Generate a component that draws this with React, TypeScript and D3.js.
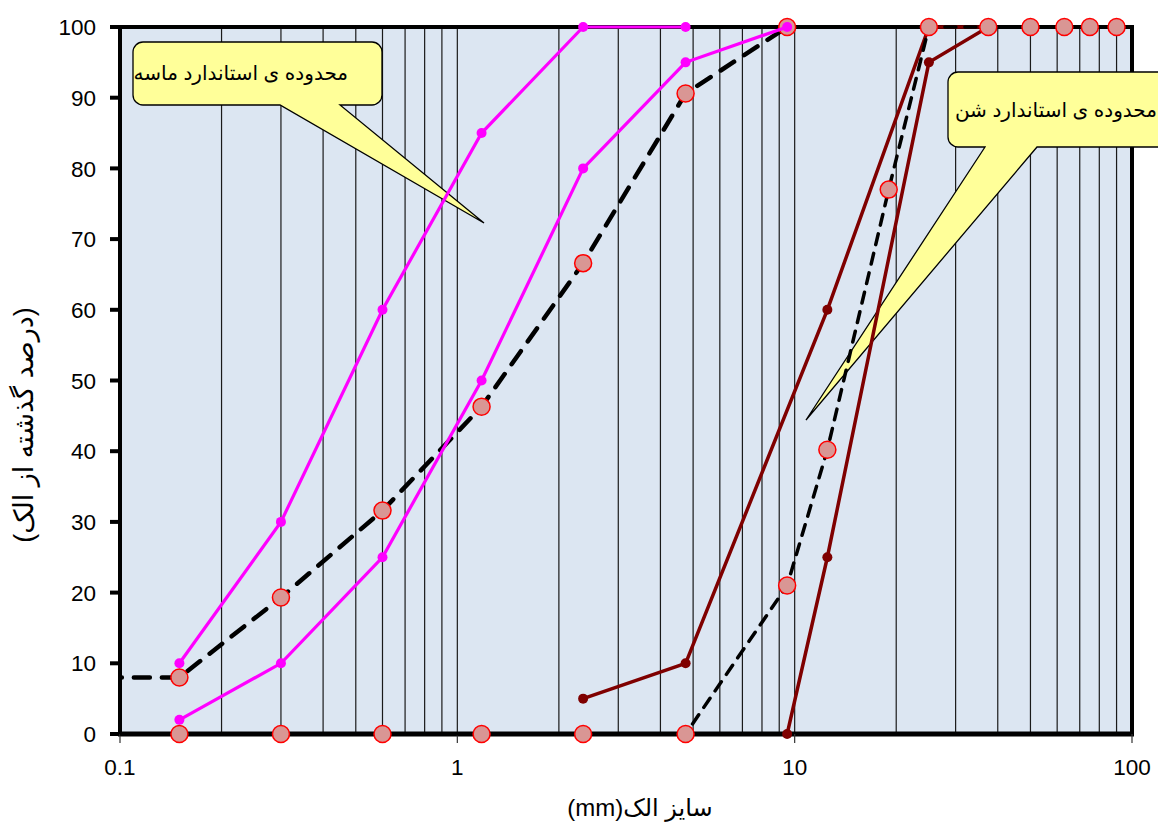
import React from "react";
import * as d3 from "d3";

const sieveSand = [0.15, 0.3, 0.6, 1.18, 2.36, 4.75, 9.5];
const sandUpper = [10, 30, 60, 85, 100, 100];
const sandLower = [2, 10, 25, 50, 80, 95, 100];
const sandMeasuredSizes = [0.075, 0.15, 0.3, 0.6, 1.18, 2.36, 4.75, 9.5];
const sandMeasured = [8, 8, 19.3, 31.6, 46.3, 66.6, 90.6, 100];

const gravelMeasuredSizes = [0.075, 0.15, 0.3, 0.6, 1.18, 2.36, 4.75, 9.5, 12.5, 19, 25, 37.5, 50, 63, 75, 90];
const gravelMeasured = [0, 0, 0, 0, 0, 0, 0, 21, 40.2, 77, 100, 100, 100, 100, 100, 100];

const gravelUpperSizes = [2.36, 4.75, 12.5, 25, 37.5];
const gravelUpper = [5, 10, 60, 100, 100];
const gravelLowerSizes = [9.5, 12.5, 25, 37.5];
const gravelLower = [0, 25, 95, 100];

const yTicks = [0, 10, 20, 30, 40, 50, 60, 70, 80, 90, 100];
const xTicks = [0.1, 1, 10, 100];
const xTickLabels = ["0.1", "1", "10", "100"];

const FONT = "'Liberation Sans', Arial, 'DejaVu Sans', sans-serif";

type P = [number, number];

export default function App() {
  const W = 1158, H = 828;
  const L = 120, R = 1132, T = 27, B = 734;
  const x = d3.scaleLog().domain([0.1, 100]).range([L, R]);
  const y = d3.scaleLinear().domain([0, 100]).range([B, T]);
  const line = d3.line<P>().x((d) => x(d[0])).y((d) => y(d[1]));

  const grid: number[] = [];
  [0.1, 1, 10].forEach((dec) => {
    for (let k = 2; k <= 9; k++) grid.push(dec * k);
    if (dec < 10) grid.push(dec * 10);
  });

  const zip = (xs: number[], ys: number[]): P[] => ys.map((v, i) => [xs[i], v]);
  const sU = zip(sieveSand, sandUpper);
  const sL = zip(sieveSand, sandLower);
  const sM = zip(sandMeasuredSizes, sandMeasured);
  const gM = zip(gravelMeasuredSizes, gravelMeasured);
  const gU = zip(gravelUpperSizes, gravelUpper);
  const gLo = zip(gravelLowerSizes, gravelLower);

  const callout = (x0: number, y0: number, x1: number, y1: number, r: number, bx0: number, bx1: number, tx: number, ty: number) =>
    `M${x0 + r},${y0} H${x1 - r} A${r},${r} 0 0 1 ${x1},${y0 + r} V${y1 - r} A${r},${r} 0 0 1 ${x1 - r},${y1} H${bx1} L${tx},${ty} L${bx0},${y1} H${x0 + r} A${r},${r} 0 0 1 ${x0},${y1 - r} V${y0 + r} A${r},${r} 0 0 1 ${x0 + r},${y0} Z`;

  const inPlot = (pts: P[]) => pts.filter((p) => p[0] >= 0.1);

  return (
    <svg width={W} height={H} style={{ position: "absolute", left: 0, top: 0, background: "#fff" }} fontFamily={FONT}>
      <defs>
        <clipPath id="plotclip">
          <rect x={L} y={0} width={R - L} height={H} />
        </clipPath>
      </defs>
      <rect x={L} y={T} width={R - L} height={B - T} fill="#DCE6F2" />
      {grid.map((g, i) => (
        <line key={i} x1={x(g)} x2={x(g)} y1={T} y2={B} stroke="#1a1a1a" strokeWidth={1.2} />
      ))}
      {/* border */}
      <rect x={L} y={T} width={R - L} height={B - T} fill="none" stroke="#000" strokeWidth={4} />
      <line x1={L - 2} x2={R + 2} y1={B} y2={B} stroke="#000" strokeWidth={5} />
      {/* y ticks */}
      {yTicks.map((t) => (
        <g key={t}>
          <line x1={L - 10} x2={L} y1={y(t)} y2={y(t)} stroke="#000" strokeWidth={4} />
          <text x={96} y={y(t)} dy="0.36em" textAnchor="end" fontSize={22.5} fill="#000">{t}</text>
        </g>
      ))}
      {/* x ticks */}
      {xTicks.map((t, i) => (
        <g key={t}>
          <line x1={x(t)} x2={x(t)} y1={B} y2={B + 9} stroke="#333" strokeWidth={1.2} />
          <text x={x(t)} y={775} textAnchor="middle" fontSize={22.5} fill="#000">{xTickLabels[i]}</text>
        </g>
      ))}
      {/* axis titles */}
      <text x={640} y={816} textAnchor="middle" fontSize={24} fill="#000" direction="ltr">(mm)سایز الک</text>
      <text transform="translate(33,425) rotate(-90)" textAnchor="middle" fontSize={27} fill="#000" direction="rtl">(درصد گذشته از الک)</text>

      {/* callouts */}
      <path d={callout(133, 42, 382, 105, 10, 280, 340, 484, 223)} fill="#FFFF99" stroke="#000" strokeWidth={1.3} />
      <text x={348} y={80} textAnchor="start" fontSize={20} fill="#000" direction="rtl">محدوده ی استاندارد ماسه</text>
      <path d={callout(948, 72, 1190, 147, 10, 985, 1037, 806, 420)} fill="#FFFF99" stroke="#000" strokeWidth={1.3} />
      <text x={1157} y={117} textAnchor="start" fontSize={20} fill="#000" direction="rtl">محدوده ی استاندارد شن</text>

      <g clipPath="url(#plotclip)">
        <path d={line(sU) || ""} fill="none" stroke="#FF00FF" strokeWidth={3.2} />
      </g>
      {sU.map((p, i) => <circle key={"su" + i} cx={x(p[0])} cy={y(p[1])} r={5} fill="#FF00FF" />)}
      <g clipPath="url(#plotclip)">
        <path d={line(sM) || ""} fill="none" stroke="#000" strokeWidth={4.5} strokeDasharray="16,12" strokeLinecap="round" />
      </g>
      {inPlot(sM).map((p, i) => <circle key={"sm" + i} cx={x(p[0])} cy={y(p[1])} r={8.5} fill="#D99694" stroke="#FF0000" strokeWidth={1.5} />)}
      <path d={line(sL) || ""} fill="none" stroke="#FF00FF" strokeWidth={3.2} />
      {sL.map((p, i) => <circle key={"sl" + i} cx={x(p[0])} cy={y(p[1])} r={5} fill="#FF00FF" />)}

      <path d={line(gU) || ""} fill="none" stroke="#7F0000" strokeWidth={3.5} />
      {gU.map((p, i) => <circle key={"gu" + i} cx={x(p[0])} cy={y(p[1])} r={5} fill="#7F0000" />)}
      <path d={line(gLo) || ""} fill="none" stroke="#7F0000" strokeWidth={3.5} />
      {gLo.map((p, i) => <circle key={"gl" + i} cx={x(p[0])} cy={y(p[1])} r={5} fill="#7F0000" />)}

      <g clipPath="url(#plotclip)">
        <path d={line(gM) || ""} fill="none" stroke="#000" strokeWidth={3.5} strokeDasharray="11,9" strokeLinecap="round" />
      </g>
      {inPlot(gM).map((p, i) => <circle key={"gm" + i} cx={x(p[0])} cy={y(p[1])} r={8.5} fill="#D99694" stroke="#FF0000" strokeWidth={1.5} />)}
    </svg>
  );
}
